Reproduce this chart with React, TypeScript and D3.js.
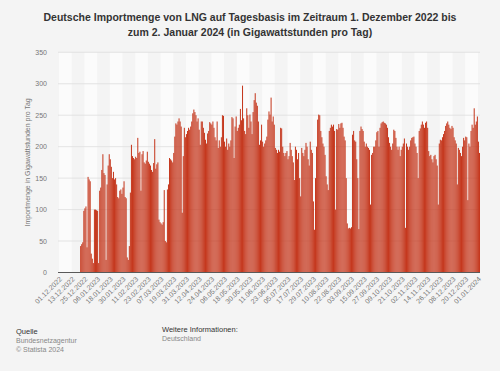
import * as d3 from 'd3';

// daily values, GWh per day
const dec2022 = [0, 0, 0, 0, 0, 0, 0, 0, 0, 0, 0, 0, 0, 0, 0, 0, 0, 0, 0, 0, 42, 45, 48, 98, 102, 105, 40, 152, 148, 145, 30];
const jan2023 = [22, 15, 100, 100, 99, 98, 15, 130, 135, 163, 188, 158, 155, 20, 140, 170, 188, 180, 168, 150, 160, 148, 150, 140, 120, 118, 130, 132, 125, 135, 145];
const feb2023 = [120, 118, 24, 20, 42, 127, 203, 185, 182, 180, 184, 182, 214, 190, 192, 130, 188, 193, 175, 173, 178, 192, 176, 173, 170, 163, 160, 174];
const mar2023 = [212, 165, 172, 175, 84, 80, 78, 76, 80, 131, 50, 48, 132, 140, 182, 180, 178, 175, 190, 216, 237, 235, 240, 245, 240, 232, 95, 185, 230, 215, 220];
const apr2023 = [225, 230, 227, 232, 240, 253, 259, 255, 250, 240, 245, 227, 203, 240, 240, 230, 222, 211, 205, 221, 225, 239, 237, 235, 240, 230, 215, 210, 240, 198];
const may2023 = [210, 200, 215, 250, 249, 208, 200, 213, 195, 205, 200, 210, 247, 245, 182, 232, 248, 225, 230, 235, 260, 242, 297, 245, 225, 220, 261, 250, 230, 251, 240];
const jun2023 = [220, 255, 274, 285, 270, 265, 240, 203, 210, 235, 208, 200, 205, 210, 216, 243, 256, 251, 278, 240, 248, 235, 198, 195, 190, 195, 192, 230, 229, 200];
const jul2023 = [190, 185, 190, 193, 180, 185, 206, 195, 185, 175, 147, 200, 195, 180, 190, 150, 121, 198, 190, 185, 195, 206, 200, 180, 170, 208, 195, 190, 113, 68, 150];
const aug2023 = [200, 243, 251, 250, 225, 215, 205, 200, 187, 153, 140, 131, 225, 230, 235, 232, 235, 225, 100, 228, 227, 236, 230, 237, 238, 230, 216, 210, 150, 78, 70];
const sep2023 = [71, 70, 72, 219, 225, 210, 208, 180, 150, 69, 225, 232, 228, 225, 208, 200, 205, 200, 198, 195, 108, 187, 190, 200, 200, 210, 223, 225, 200, 230];
const oct2023 = [237, 239, 240, 238, 237, 235, 230, 215, 206, 200, 195, 205, 227, 225, 214, 200, 195, 200, 185, 195, 200, 205, 213, 71, 205, 200, 195, 200, 210, 214, 215];
const nov2023 = [216, 205, 200, 190, 150, 225, 229, 235, 240, 235, 230, 238, 240, 230, 193, 185, 187, 180, 175, 185, 187, 180, 170, 108, 205, 211, 210, 215, 220, 225];
const dec2023 = [233, 237, 240, 235, 230, 228, 233, 230, 215, 210, 205, 140, 198, 195, 190, 185, 200, 214, 210, 216, 215, 115, 205, 200, 225, 235, 230, 261, 235, 240, 248];
const jan2024 = [208, 190];

const values = [
  ...dec2022, ...jan2023, ...feb2023, ...mar2023, ...apr2023, ...may2023, ...jun2023,
  ...jul2023, ...aug2023, ...sep2023, ...oct2023, ...nov2023, ...dec2023, ...jan2024,
];

const fmt = d3.timeFormat('%d.%m.%Y');
const categories = d3.timeDay.range(new Date(2022, 11, 1), new Date(2024, 0, 3)).map(fmt);

const tickLabels = [
  '01.12.2022', '13.12.2022', '25.12.2022', '06.01.2023', '18.01.2023', '30.01.2023',
  '11.02.2023', '23.02.2023', '07.03.2023', '19.03.2023', '31.03.2023', '12.04.2023',
  '24.04.2023', '06.05.2023', '18.05.2023', '30.05.2023', '11.06.2023', '23.06.2023',
  '05.07.2023', '17.07.2023', '29.07.2023', '10.08.2023', '22.08.2023', '03.09.2023',
  '15.09.2023', '27.09.2023', '09.10.2023', '21.10.2023', '02.11.2023', '14.11.2023',
  '26.11.2023', '08.12.2023', '20.12.2023', '01.01.2024',
];
const yTicks = [0, 50, 100, 150, 200, 250, 300, 350];

const W = 500;
const H = 371;
const left = 59;
const right = 480;
const top = 52.3;
const bottom = 272.5;
const font = '"Liberation Sans", Arial, sans-serif';

export default function App() {
  const x = d3.scaleBand<string>().domain(categories).range([left, right]).paddingInner(0.04);
  const y = d3.scaleLinear().domain([0, 350]).range([bottom, top]);
  const step = x.step();

  // alternating background stripes, one per tick interval
  const tickIdx = tickLabels.map((t) => categories.indexOf(t));

  return (
    <svg width={W} height={H} style={{ position: 'absolute', left: 0, top: 0 }} fontFamily={font}>
      <rect width={W} height={H} fill="#f4f4f4" />
      {tickIdx.map((idx, i) => {
        if (i % 2 === 1) return null;
        const x0 = left + idx * step;
        const x1 = Math.min(right, left + (idx + 12) * step);
        return <rect key={'s' + i} x={x0} y={top} width={x1 - x0} height={bottom - top} fill="#fbfbfb" />;
      })}
      {yTicks.map((t) => (
        <g key={'y' + t}>
          <line x1={left - 1} x2={right} y1={y(t)} y2={y(t)} stroke="#dedede" strokeWidth={0.8} />
          <text x={47} y={y(t) + 2.5} textAnchor="end" fontSize={7} fill="#777">
            {t}
          </text>
        </g>
      ))}
      {values.map((v, i) => (
        <rect
          key={i}
          x={x(categories[i])}
          y={y(v)}
          width={x.bandwidth()}
          height={bottom - y(v)}
          fill="#c5381e"
        />
      ))}
      <line x1={left - 1} x2={right} y1={bottom} y2={bottom} stroke="#5a5a5a" strokeWidth={1} />
      {tickLabels.map((t) => {
        const cx = (x(t) ?? 0) + x.bandwidth() / 2;
        return (
          <text
            key={t}
            transform={`translate(${cx + 3},${bottom + 7}) rotate(-45)`}
            textAnchor="end"
            fontSize={7}
            fill="#777"
          >
            {t}
          </text>
        );
      })}
      <text
        transform={`translate(30,${(top + bottom) / 2}) rotate(-90)`}
        textAnchor="middle"
        fontSize={7}
        fill="#777"
      >
        Importmenge in Gigawattstunden pro Tag
      </text>
      <text x={250} y={21} textAnchor="middle" fontSize={10.5} fontWeight="bold" fill="#333">
        Deutsche Importmenge von LNG auf Tagesbasis im Zeitraum 1. Dezember 2022 bis
      </text>
      <text x={250} y={36} textAnchor="middle" fontSize={10.5} fontWeight="bold" fill="#333">
        zum 2. Januar 2024 (in Gigawattstunden pro Tag)
      </text>
      <text x={16} y={334} fontSize={7.5} fill="#333">Quelle</text>
      <text x={16} y={343} fontSize={7} fill="#888">Bundesnetzagentur</text>
      <text x={16} y={351.5} fontSize={7} fill="#888">© Statista 2024</text>
      <text x={162} y={332} fontSize={7.5} fill="#333">Weitere Informationen:</text>
      <text x={162} y={340.5} fontSize={7} fill="#888">Deutschland</text>
    </svg>
  );
}
